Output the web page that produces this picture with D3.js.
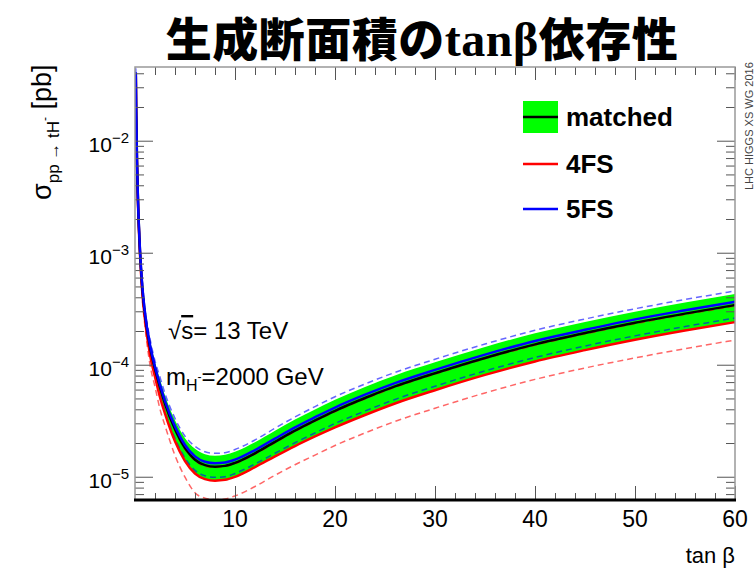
<!DOCTYPE html>
<html>
<head>
<meta charset="utf-8">
<script src="https://cdn.jsdelivr.net/npm/d3@7"></script>
<style>
  body { margin: 0; background: #fff; }
  svg { display: block; }
</style>
</head>
<body>
<div id="chart"></div>
<script>
// tan(beta) sample points
const tanb = [0.08, 0.12, 0.2, 0.3, 0.5, 0.7, 1, 1.5, 2, 2.5, 3, 4, 5, 6, 7, 8, 9, 10,
              12, 14, 16, 18, 20, 23, 26, 30, 35, 40, 45, 50, 55, 60];

// matched (central + green band), pb
const matched = [4.0e-2, 1.8e-2, 6.5e-3, 2.9e-3, 1.03e-3, 5.3e-4, 2.8e-4, 1.45e-4, 9.2e-5, 6.3e-5, 4.5e-5,
                 2.65e-5, 1.8e-5, 1.42e-5, 1.27e-5, 1.23e-5, 1.25e-5, 1.33e-5, 1.62e-5, 2.05e-5, 2.58e-5,
                 3.18e-5, 3.88e-5, 5.05e-5, 6.4e-5, 8.4e-5, 1.15e-4, 1.52e-4, 1.92e-4, 2.37e-4, 2.86e-4, 3.41e-4];
const matchedUp = [4.34e-2, 1.95e-2, 7.06e-3, 3.15e-3, 1.12e-3, 5.87e-4, 3.10e-4, 1.67e-4, 1.06e-4, 7.43e-5, 5.31e-5,
                   3.19e-5, 2.21e-5, 1.78e-5, 1.59e-5, 1.54e-5, 1.57e-5, 1.67e-5, 2.03e-5, 2.57e-5, 3.24e-5,
                   3.99e-5, 4.87e-5, 6.33e-5, 8.03e-5, 1.05e-4, 1.44e-4, 1.91e-4, 2.41e-4, 2.97e-4, 3.59e-4, 4.28e-4];
const matchedDown = [3.76e-2, 1.69e-2, 6.11e-3, 2.73e-3, 9.68e-4, 4.78e-4, 2.53e-4, 1.23e-4, 7.80e-5, 5.13e-5, 3.66e-5,
                     2.07e-5, 1.38e-5, 1.07e-5, 9.53e-6, 9.23e-6, 9.38e-6, 9.98e-6, 1.22e-5, 1.52e-5, 1.88e-5,
                     2.29e-5, 2.76e-5, 3.56e-5, 4.51e-5, 5.92e-5, 8.11e-5, 1.07e-4, 1.35e-4, 1.67e-4, 2.02e-4, 2.40e-4];

// 4FS
const fs4 = [3.76e-2, 1.69e-2, 6.11e-3, 2.73e-3, 9.68e-4, 4.78e-4, 2.53e-4, 1.23e-4, 7.80e-5, 5.13e-5, 3.66e-5,
             2.07e-5, 1.38e-5, 1.07e-5, 9.53e-6, 9.23e-6, 9.38e-6, 9.98e-6, 1.22e-5, 1.52e-5, 1.88e-5,
             2.29e-5, 2.76e-5, 3.56e-5, 4.51e-5, 5.92e-5, 8.11e-5, 1.07e-4, 1.35e-4, 1.67e-4, 2.02e-4, 2.40e-4];
const fs4Up = [3.96e-2, 1.78e-2, 6.44e-3, 2.87e-3, 1.02e-3, 5.25e-4, 2.77e-4, 1.42e-4, 9.02e-5, 6.17e-5, 4.41e-5,
               2.60e-5, 1.76e-5, 1.39e-5, 1.24e-5, 1.21e-5, 1.23e-5, 1.30e-5, 1.59e-5, 2.01e-5, 2.53e-5,
               3.12e-5, 3.80e-5, 4.95e-5, 6.27e-5, 8.23e-5, 1.13e-4, 1.49e-4, 1.88e-4, 2.32e-4, 2.80e-4, 3.34e-4];
const fs4Down = [3.39e-2, 1.53e-2, 5.51e-3, 2.46e-3, 8.73e-4, 4.14e-4, 2.19e-4, 1.00e-4, 6.36e-5, 4.01e-5, 2.86e-5,
                 1.55e-5, 9.92e-6, 7.20e-6, 6.44e-6, 6.24e-6, 6.34e-6, 6.74e-6, 8.18e-6, 1.03e-5, 1.28e-5,
                 1.56e-5, 1.90e-5, 2.46e-5, 3.12e-5, 4.09e-5, 5.60e-5, 7.40e-5, 9.35e-5, 1.15e-4, 1.39e-4, 1.66e-4];

// 5FS
const fs5 = [4.08e-2, 1.84e-2, 6.64e-3, 2.96e-3, 1.05e-3, 5.46e-4, 2.89e-4, 1.51e-4, 9.59e-5, 6.63e-5, 4.74e-5,
             2.82e-5, 1.92e-5, 1.52e-5, 1.36e-5, 1.32e-5, 1.34e-5, 1.42e-5, 1.73e-5, 2.19e-5, 2.76e-5,
             3.40e-5, 4.15e-5, 5.40e-5, 6.85e-5, 8.99e-5, 1.23e-4, 1.63e-4, 2.05e-4, 2.54e-4, 3.06e-4, 3.65e-4];
const fs5Up = [4.43e-2, 1.99e-2, 7.20e-3, 3.21e-3, 1.14e-3, 5.99e-4, 3.17e-4, 1.71e-4, 1.08e-4, 7.74e-5, 5.53e-5,
               3.32e-5, 2.30e-5, 1.87e-5, 1.67e-5, 1.62e-5, 1.64e-5, 1.75e-5, 2.13e-5, 2.71e-5, 3.42e-5,
               4.23e-5, 5.18e-5, 6.74e-5, 8.54e-5, 1.12e-4, 1.53e-4, 2.03e-4, 2.56e-4, 3.16e-4, 3.82e-4, 4.55e-4];
const fs5Down = [3.68e-2, 1.66e-2, 5.99e-3, 2.67e-3, 9.49e-4, 4.78e-4, 2.53e-4, 1.26e-4, 7.97e-5, 5.34e-5, 3.82e-5,
                 2.20e-5, 1.47e-5, 1.14e-5, 1.02e-5, 9.88e-6, 1.00e-5, 1.07e-5, 1.30e-5, 1.62e-5, 2.01e-5,
                 2.46e-5, 2.99e-5, 3.86e-5, 4.90e-5, 6.43e-5, 8.80e-5, 1.16e-4, 1.47e-4, 1.81e-4, 2.19e-4, 2.61e-4];

const xTicks = [10, 20, 30, 40, 50, 60];
const yDecades = [-5, -4, -3, -2];
const legendNames = ['matched', '4FS', '5FS'];

const W = 755, H = 569;
const plot = {left: 135, right: 735, top: 67, bottom: 500};
const SANS = "'Liberation Sans', Arial, Helvetica, sans-serif";

const svg = d3.select('#chart').append('svg')
    .attr('width', W)
    .attr('height', H);

// title
svg.append('text')
    .attr('x', 422)
    .attr('y', 56)
    .attr('text-anchor', 'middle')
    .style('font-family', "'Noto Sans CJK JP', sans-serif")
    .style('font-weight', 900)
    .style('font-size', '46px')
    .style('letter-spacing', '0.5px')
    .call(t => {
        t.append('tspan').text('生成断面積の');
        t.append('tspan').style('font-family', "'Liberation Serif', 'DejaVu Serif', serif")
            .style('font-weight', 'bold').style('font-size', '48px').text('tanβ');
        t.append('tspan').text('依存性');
    });

const x = d3.scaleLinear().domain([0, 60]).range([plot.left, plot.right]);
const y = d3.scaleLog().domain([6.2e-6, 0.0455]).range([plot.bottom, plot.top]);

svg.append('defs').append('clipPath')
    .attr('id', 'plotClip')
    .append('rect')
    .attr('x', plot.left)
    .attr('y', plot.top)
    .attr('width', plot.right - plot.left)
    .attr('height', plot.bottom - plot.top);

const g = svg.append('g').attr('clip-path', 'url(#plotClip)');

const idx = d3.range(tanb.length);

// green band
g.append('path')
    .datum(idx)
    .attr('fill', '#00ff00')
    .attr('d', d3.area()
        .x(i => x(tanb[i]))
        .y0(i => y(matchedDown[i]))
        .y1(i => y(matchedUp[i]))
        .curve(d3.curveMonotoneX));

function drawLine(values, color, width, dash, opacity) {
    g.append('path')
        .datum(idx)
        .attr('fill', 'none')
        .attr('stroke', color)
        .attr('stroke-width', width)
        .attr('stroke-dasharray', dash)
        .attr('stroke-opacity', opacity)
        .attr('d', d3.line()
            .x(i => x(tanb[i]))
            .y(i => y(values[i]))
            .curve(d3.curveMonotoneX));
}

drawLine(fs4Up, '#ff0000', 1.5, '6,4', 0.6);
drawLine(fs4Down, '#ff0000', 1.5, '6,4', 0.6);
drawLine(fs5Up, '#0000ff', 1.5, '6,4', 0.6);
drawLine(fs5Down, '#0000ff', 1.5, '6,4', 0.6);
drawLine(fs4, '#ff0000', 2.5, null, 1);
drawLine(matched, '#000000', 2.5, null, 1);
drawLine(fs5, '#0000ff', 2.5, null, 1);

// ticks (inward, ROOT style)
const xMinor = d3.range(2, 60, 2).filter(v => v % 10 !== 0);
const yMajor = yDecades.map(d => Math.pow(10, d));
const yMinor = [];
[-6, -5, -4, -3, -2].forEach(d => {
    for (let k = 2; k <= 9; k++) {
        const v = k * Math.pow(10, d);
        if (v > y.domain()[0] && v < y.domain()[1]) yMinor.push(v);
    }
});

function ticks(axisFn, scale, values, size, tx, ty) {
    svg.append('g')
        .attr('transform', 'translate(' + tx + ',' + ty + ')')
        .call(axisFn(scale).tickValues(values).tickSize(size).tickFormat(''))
        .call(a => a.select('.domain').remove())
        .selectAll('line')
        .attr('stroke', '#555')
        .attr('stroke-width', 1);
}

ticks(d3.axisBottom, x, xTicks, -14, 0, plot.bottom);
ticks(d3.axisBottom, x, xMinor, -7, 0, plot.bottom);
ticks(d3.axisTop, x, xTicks, -13, 0, plot.top);
ticks(d3.axisTop, x, xMinor, -8, 0, plot.top);
ticks(d3.axisLeft, y, yMajor, -18, plot.left, 0);
ticks(d3.axisLeft, y, yMinor, -9, plot.left, 0);
ticks(d3.axisRight, y, yMajor, -18, plot.right, 0);
ticks(d3.axisRight, y, yMinor, -9, plot.right, 0);

// frame
svg.append('rect')
    .attr('x', plot.left)
    .attr('y', plot.top)
    .attr('width', plot.right - plot.left)
    .attr('height', plot.bottom - plot.top)
    .attr('fill', 'none')
    .attr('stroke', '#999')
    .attr('stroke-width', 1.5);
svg.append('line')
    .attr('x1', plot.left - 1).attr('x2', plot.right + 1)
    .attr('y1', plot.bottom).attr('y2', plot.bottom)
    .attr('stroke', '#000')
    .attr('stroke-width', 3);

// x tick labels
svg.append('g').selectAll('text')
    .data(xTicks)
    .join('text')
    .attr('x', d => x(d))
    .attr('y', 527)
    .attr('text-anchor', 'middle')
    .style('font-family', SANS)
    .style('font-size', '23px')
    .text(d => d);

// y tick labels 10^n
svg.append('g').selectAll('text')
    .data(yDecades)
    .join('text')
    .attr('x', 129)
    .attr('y', d => y(Math.pow(10, d)) + 11)
    .attr('text-anchor', 'end')
    .style('font-family', SANS)
    .style('font-size', '21px')
    .each(function (d) {
        const t = d3.select(this);
        t.append('tspan').text('10');
        t.append('tspan').attr('dy', -9).style('font-size', '15px').text('\u2212' + (-d));
    });

// axis titles
svg.append('text')
    .attr('x', 735)
    .attr('y', 563)
    .attr('text-anchor', 'end')
    .style('font-family', SANS)
    .style('font-size', '22px')
    .text('tan β');

svg.append('text')
    .attr('transform', 'translate(51,200) rotate(-90)')
    .style('font-family', SANS)
    .style('font-size', '27px')
    .call(t => {
        t.append('tspan').text('σ');
        t.append('tspan').attr('dy', 8).style('font-size', '17px').text('pp → tH');
        t.append('tspan').attr('dy', -10).style('font-size', '12px').text('-');
        t.append('tspan').attr('dy', 2).text(' [pb]');
    });

// annotation
const note = svg.append('g')
    .style('font-family', SANS)
    .style('font-size', '24px');
note.append('text')
    .attr('x', 168)
    .attr('y', 339)
    .call(t => {
        t.append('tspan').text('√');
        t.append('tspan').style('text-decoration', 'overline').text('s');
        t.append('tspan').text('= 13 TeV');
    });
note.append('text')
    .attr('x', 166)
    .attr('y', 385)
    .call(t => {
        t.append('tspan').text('m');
        t.append('tspan').attr('dy', 6).style('font-size', '16px').text('H');
        t.append('tspan').attr('dy', -10).style('font-size', '12px').text('-');
        t.append('tspan').attr('dy', 4).text('=2000 GeV');
    });

// legend
const legend = svg.append('g')
    .style('font-family', SANS)
    .style('font-weight', 'bold')
    .style('font-size', '26px');
const legendY = [117, 164, 209];
const legendColor = ['#000000', '#ff0000', '#0000ff'];

legend.append('rect')
    .attr('x', 523).attr('y', 101)
    .attr('width', 35).attr('height', 32)
    .attr('fill', '#00ff00');

legend.selectAll('line')
    .data(legendNames)
    .join('line')
    .attr('x1', 523).attr('x2', 558)
    .attr('y1', (d, i) => legendY[i]).attr('y2', (d, i) => legendY[i])
    .attr('stroke', (d, i) => legendColor[i])
    .attr('stroke-width', 2.5);

legend.selectAll('text')
    .data(legendNames)
    .join('text')
    .attr('x', 566)
    .attr('y', (d, i) => legendY[i] + 9)
    .text(d => d);

// watermark on the right margin
svg.append('text')
    .attr('transform', 'translate(753,190) rotate(-90)')
    .style('font-family', SANS)
    .style('font-size', '11px')
    .style('fill', '#444')
    .text('LHC HIGGS XS WG 2016');
</script>
</body>
</html>
